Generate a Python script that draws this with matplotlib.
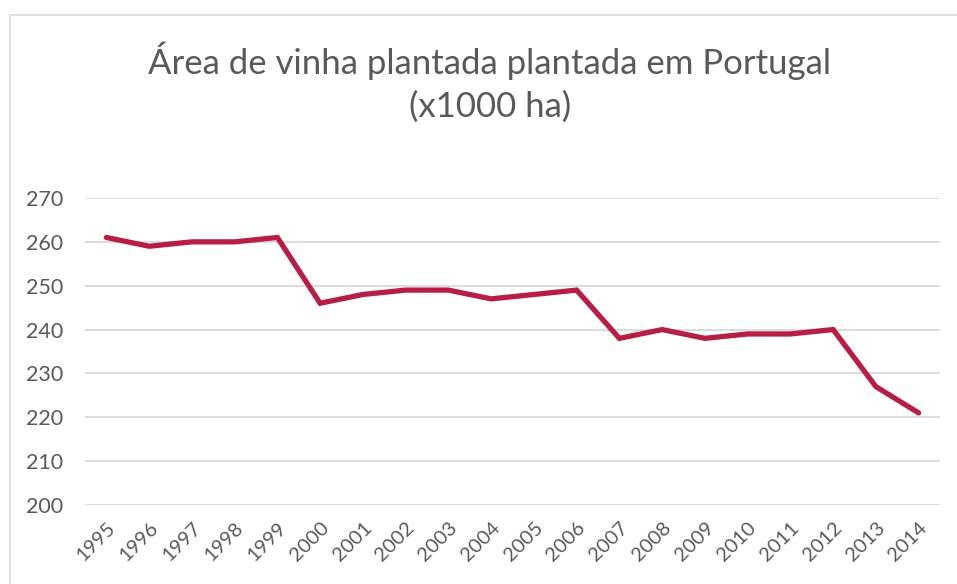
import matplotlib
matplotlib.use("Agg")
import matplotlib.pyplot as plt
from matplotlib.patches import Rectangle

years = ["1995", "1996", "1997", "1998", "1999", "2000", "2001", "2002", "2003", "2004",
         "2005", "2006", "2007", "2008", "2009", "2010", "2011", "2012", "2013", "2014"]
area = [261, 259, 260, 260, 261, 246, 248, 249, 249, 247,
        248, 249, 238, 240, 238, 239, 239, 240, 227, 221]
yticks = [200, 210, 220, 230, 240, 250, 260, 270]
title = "Área de vinha plantada plantada em Portugal\n(x1000 ha)"

plt.rcParams['font.family'] = ['Lato', 'DejaVu Sans']
W, H = 957, 584
fig = plt.figure(figsize=(W / 100, H / 100), dpi=100)

# chart border
fig.patches.append(Rectangle((10 / W, -0.1), 1.2, 1.1 - 15 / H, transform=fig.transFigure,
                             fill=False, edgecolor="#D9D9D9", linewidth=1.2))

left, right, top, bottom = 85, 940, 198, 505
ax = fig.add_axes([left / W, 1 - bottom / H, (right - left) / W, (bottom - top) / H])

x = list(range(len(years)))
ax.plot(x, area, color="#B81E45", linewidth=3.8, solid_joinstyle="miter", solid_capstyle="round", zorder=3)

ax.set_xlim(-0.5, len(years) - 0.5)
ax.set_ylim(200, 270)
ax.set_yticks(yticks)
ax.set_yticklabels([str(v) for v in yticks])
ax.set_xticks(x)
ax.set_xticklabels(years, rotation=45, ha="right", rotation_mode="anchor")
ax.grid(axis="y", color="#D9D9D9", linewidth=1.3)
ax.set_axisbelow(True)
for s in ax.spines.values():
    s.set_visible(False)
ax.tick_params(axis="both", length=0, colors="#595959")
ax.tick_params(axis="y", labelsize=15.5, pad=16)
ax.tick_params(axis="x", labelsize=14.5, pad=10)

fig.text(490 / W, 1 - 82 / H, title, ha="center", va="center", fontsize=25,
         color="#595959", linespacing=1.4)

fig.savefig("out.png", dpi=100)
